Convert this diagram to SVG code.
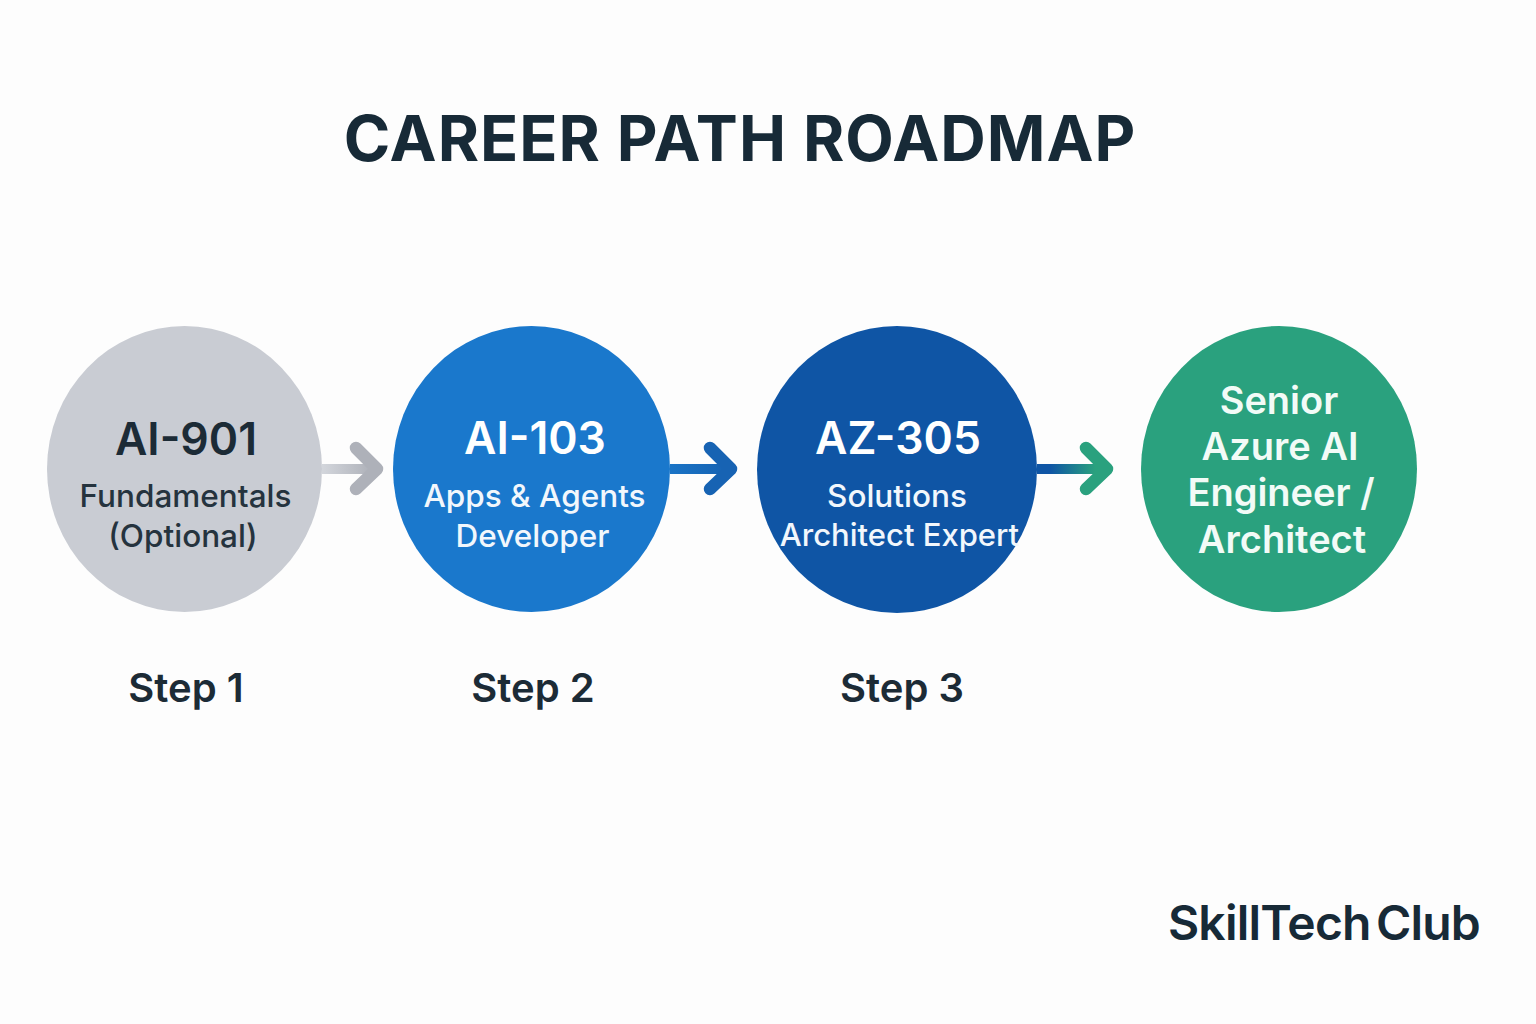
<svg xmlns="http://www.w3.org/2000/svg" width="1536" height="1024" viewBox="0 0 1536 1024">
<style>
text{font-family:"Inter","Liberation Sans",sans-serif;text-anchor:middle}
.big{font-size:44.500px;font-weight:600}
.sub{font-size:31.500px;font-weight:500}
.sr{font-size:38px;font-weight:600;fill:#f2fbf7}
.step{font-size:40px;font-weight:600;fill:#1c2b36}
.ln{fill:none;stroke-width:10}
.hd{fill:none;stroke-width:12.500;stroke-linecap:round;stroke-linejoin:round}
</style>
<defs>
<linearGradient id="g1" gradientUnits="userSpaceOnUse" x1="322" x2="372" y1="0" y2="0"><stop offset="0" stop-color="#d3d6dc"/><stop offset="1" stop-color="#aeb1b9"/></linearGradient>
<linearGradient id="g2" gradientUnits="userSpaceOnUse" x1="670" x2="726" y1="0" y2="0"><stop offset="0" stop-color="#1a74c6"/><stop offset="1" stop-color="#1763b3"/></linearGradient>
<linearGradient id="g3" gradientUnits="userSpaceOnUse" x1="1050" x2="1095" y1="0" y2="0"><stop offset="0" stop-color="#0f55a5"/><stop offset="1" stop-color="#2aa17e"/></linearGradient>
</defs>
<rect width="1536" height="1024" fill="#fdfdfd"/>
<text id="title" x="740" y="161" font-size="63" font-weight="700" fill="#172a37" letter-spacing="1">CAREER PATH ROADMAP</text>
<g id="connectors">
<path class="ln" stroke="url(#g1)" d="M322 469H372"/><path class="hd" stroke="#aeb1b9" d="M356 448L377 469L356 489"/>
<path class="ln" stroke="url(#g2)" d="M670 469H726"/><path class="hd" stroke="#1763b3" d="M710 448L731 469L710 489"/>
<path class="ln" stroke="url(#g3)" d="M1037 469H1102"/><path class="hd" stroke="#2aa17e" d="M1086 448L1107 469L1086 489"/>
</g>
<g id="node1"><ellipse cx="184.500" cy="469" rx="137.500" ry="143" fill="#c9ccd3"/>
<text x="186" y="455" class="big" fill="#1c2b36">AI-901</text>
<text x="185.500" y="507" class="sub" fill="#25333e">Fundamentals</text>
<text x="183" y="547" class="sub" fill="#25333e">(Optional)</text></g>
<g id="node2"><ellipse cx="531.500" cy="469" rx="138.500" ry="143" fill="#1a78cc"/>
<text x="535" y="454" class="big" fill="#fff">AI-103</text>
<text x="534.500" y="507" class="sub" fill="#f2f7fc">Apps &amp; Agents</text>
<text x="532.500" y="547" class="sub" fill="#f2f7fc">Developer</text></g>
<g id="node3"><ellipse cx="897" cy="469.500" rx="140" ry="143.500" fill="#0f55a5"/>
<text x="898" y="454" class="big" fill="#fff">AZ-305</text>
<text x="897" y="507" class="sub" fill="#f2f7fc">Solutions</text>
<text x="899.500" y="546" font-size="31" font-weight="500" fill="#f2f7fc">Architect Expert</text></g>
<g id="node4"><ellipse cx="1279" cy="469" rx="138" ry="143" fill="#2aa17e"/>
<text x="1279" y="414" class="sr">Senior</text>
<text x="1280" y="460" class="sr">Azure AI</text>
<text x="1281" y="506" class="sr">Engineer /</text>
<text x="1282" y="553" class="sr">Architect</text></g>
<g id="labels">
<text x="186" y="702" class="step">Step 1</text>
<text x="533" y="702" class="step">Step 2</text>
<text x="902" y="702" class="step">Step 3</text>
</g>
<text id="brand" x="1324" y="940" font-size="48" font-weight="600" fill="#172a37" letter-spacing="-0.800" word-spacing="-6">SkillTech Club</text>
</svg>
